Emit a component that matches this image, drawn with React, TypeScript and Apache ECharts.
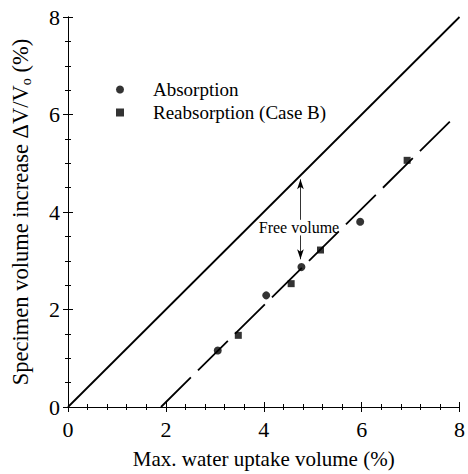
import React, { useEffect, useRef } from "react";
import * as echarts from "echarts";

// Measured points: [max. water uptake volume (%), specimen volume increase (%)]
const absorption: [number, number][] = [
  [3.06, 1.16],
  [4.05, 2.29],
  [4.77, 2.87],
  [5.97, 3.8],
];
const reabsorption: [number, number][] = [
  [3.48, 1.47],
  [4.56, 2.53],
  [5.16, 3.22],
  [6.93, 5.06],
];
// Reference line dV/Vo = uptake, and the fitted line through the data
const identityLine: [number, number][] = [
  [0, 0],
  [8, 8],
];
const fitLine: [number, number][] = [
  [1.9, 0],
  [7.85, 5.9],
];
// "Free volume" annotation: arrows between the two lines
const arrowX = 4.75;
const arrowUp: [number, number] = [3.84, 4.67];
const arrowDown: [number, number] = [3.52, 3.03];
const freeVolumeLabel: [number, number] = [4.72, 3.68];

const xTicks = [0, 2, 4, 6, 8];
const yTicks = [0, 2, 4, 6, 8];

const FONT = "Liberation Serif";

export default function App() {
  const ref = useRef<HTMLDivElement>(null);

  useEffect(() => {
    if (!ref.current) return;
    const chart = echarts.init(ref.current, undefined, { renderer: "svg" });

    const axisCommon = {
      type: "value" as const,
      min: xTicks[0],
      max: xTicks[xTicks.length - 1],
      interval: 2,
      splitLine: { show: false },
      axisLine: { show: true, lineStyle: { color: "#000", width: 1 } },
    };

    chart.setOption({
      animation: false,
      backgroundColor: "#fff",
      textStyle: { fontFamily: FONT, color: "#000" },
      grid: { left: 68, top: 17, width: 394, height: 394 },
      legend: {
        orient: "vertical",
        left: 111,
        top: 75,
        itemWidth: 8,
        itemHeight: 8,
        itemGap: 4,
        data: [
          { name: "Absorption", icon: "circle" },
          { name: "Reabsorption (Case B)", icon: "rect" },
        ],
        textStyle: {
          fontFamily: FONT,
          fontSize: 19,
          color: "#000",
          padding: [0, 0, 0, 24],
        },
      },
      xAxis: [
        {
          ...axisCommon,
          position: "bottom",
          name: "Max. water uptake volume (%)",
          nameLocation: "middle",
          nameGap: 41,
          nameTextStyle: { fontFamily: FONT, fontSize: 21, color: "#000" },
          axisTick: { show: true, inside: true, length: 5, lineStyle: { color: "#000" } },
          minorTick: { show: true, splitNumber: 5, length: 3, lineStyle: { color: "#000" } },
          axisLabel: { fontFamily: FONT, fontSize: 22, color: "#000", margin: 11 },
        },
        {
          ...axisCommon,
          position: "top",
          axisTick: { show: true, inside: true, length: 5, lineStyle: { color: "#000" } },
          minorTick: { show: true, splitNumber: 5, length: 3, lineStyle: { color: "#000" } },
          axisLabel: { show: false },
        },
      ],
      yAxis: [
        {
          ...axisCommon,
          min: yTicks[0],
          max: yTicks[yTicks.length - 1],
          position: "left",
          name: "{m|Specimen volume increase ΔV/V}{s|o}{m| (%)}",
          nameLocation: "middle",
          nameRotate: 90,
          nameGap: 35,
          nameTextStyle: {
            fontFamily: FONT,
            color: "#000",
            rich: {
              m: { fontFamily: FONT, fontSize: 22.5, lineHeight: 26, color: "#000" },
              s: {
                fontFamily: FONT,
                fontSize: 14,
                lineHeight: 14,
                verticalAlign: "bottom",
                color: "#000",
              },
            },
          },
          axisTick: { show: true, inside: true, length: 5, lineStyle: { color: "#000" } },
          minorTick: { show: true, splitNumber: 4, length: 3, lineStyle: { color: "#000" } },
          axisLabel: { fontFamily: FONT, fontSize: 22, color: "#000", margin: 8 },
        },
        {
          ...axisCommon,
          min: yTicks[0],
          max: yTicks[yTicks.length - 1],
          position: "right",
          axisTick: { show: true, inside: true, length: 5, lineStyle: { color: "#000" } },
          minorTick: { show: true, splitNumber: 4, length: 3, lineStyle: { color: "#000" } },
          axisLabel: { show: false },
        },
      ],
      series: [
        {
          name: "identity",
          type: "line",
          data: identityLine,
          symbol: "none",
          lineStyle: { color: "#000", width: 1.8 },
          silent: true,
          markLine: {
            silent: true,
            symbol: ["none", "arrow"],
            symbolSize: [5, 10],
            lineStyle: { color: "#000", width: 0.8, type: "solid" },
            label: { show: false },
            data: [
              [{ coord: [arrowX, arrowUp[0]] }, { coord: [arrowX, arrowUp[1]] }],
              [{ coord: [arrowX, arrowDown[0]] }, { coord: [arrowX, arrowDown[1]] }],
            ],
          },
          markPoint: {
            silent: true,
            symbol: "circle",
            symbolSize: 0,
            label: {
              show: true,
              position: "inside",
              formatter: "Free volume",
              fontFamily: FONT,
              fontSize: 16,
              color: "#000",
            },
            data: [{ coord: freeVolumeLabel }],
          },
        },
        {
          name: "fit",
          type: "line",
          data: fitLine,
          symbol: "none",
          lineStyle: { color: "#000", width: 1.8, type: [42, 10] },
          silent: true,
        },
        {
          name: "Absorption",
          type: "scatter",
          data: absorption,
          symbol: "circle",
          symbolSize: 8,
          itemStyle: { color: "#000" },
        },
        {
          name: "Reabsorption (Case B)",
          type: "scatter",
          data: reabsorption,
          symbol: "rect",
          symbolSize: 7,
          itemStyle: { color: "#000" },
        },
      ],
    });

    return () => chart.dispose();
  }, []);

  return (
    <div
      ref={ref}
      style={{ position: "fixed", left: 0, top: 0, width: 468, height: 474 }}
    />
  );
}
